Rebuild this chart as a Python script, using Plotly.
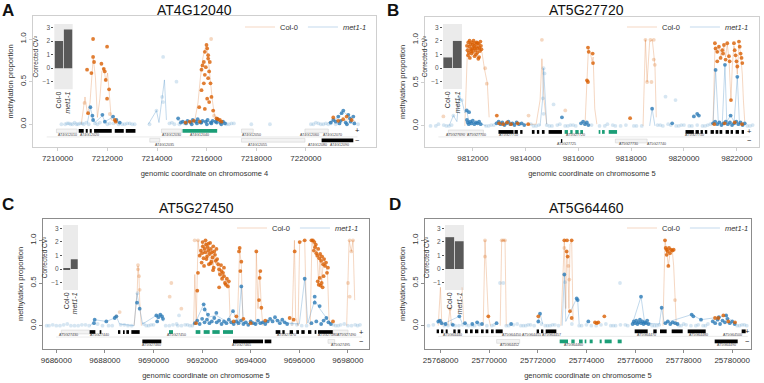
import plotly.graph_objects as go

W, H = 764, 383

# ---------------- Panel A : AT4G12040 (chr 4) ----------------
A_col_x = [7211183, 7211425, 7211425, 7211465, 7211357, 7211223, 7211761, 7211855, 7211895, 7211989, 7211935, 7211989, 7212070, 7212298, 7212338,
           7215994, 7216021, 7216061, 7215927, 7216061, 7215887, 7216128, 7215833, 7215967, 7215793, 7216101, 7215927, 7216061, 7215887, 7216155,
           7215793, 7216021, 7216101, 7215927, 7216262, 7215699, 7216195, 7215726, 7216397, 7216530, 7215322, 7215150, 7215480, 7216600, 7216450,
           7221101, 7221639, 7221840, 7221300, 7221500]
A_col_y = [0.64, 1.0, 0.79, 0.73, 0.6, 0.13, 0.71, 0.65, 0.62, 0.91, 0.52, 0.3, 0.41, 0.05, 0.03,
           0.93, 0.89, 0.81, 0.85, 0.77, 0.73, 0.73, 0.69, 0.67, 0.64, 0.62, 0.58, 0.54, 0.48, 0.48,
           0.4, 0.3, 0.26, 0.18, 0.16, 0.2, 0.32, 0.03, 0.07, 0.05, 0.03, 0.02, 0.04, 0.03, 0.06,
           0.08, 0.09, 0.05, 0.04, 0.06]
A_colf_x = [7216181, 7211080, 7212100, 7216300]
A_colf_y = [1.0, 0.25, 0.12, 0.1]
A_col_line_x = [7210950, 7211100, 7211200, 7211300, 7211430, 7211520, 7211600, 7211700, 7211780, 7211860, 7211940, 7212010, 7212080, 7212160, 7212300, 7212400, None,
                7215500, 7215650, 7215750, 7215850, 7215950, 7216010, 7216080, 7216150, 7216230, 7216320, 7216450, 7216600, None,
                7220900, 7221200, 7221500, 7221800, 7222000]
A_col_line_y = [0.0, 0.32, 0.12, 0.25, 0.78, 0.55, 0.08, 0.3, 0.62, 0.66, 0.5, 0.6, 0.35, 0.05, 0.04, 0.02, None,
                0.01, 0.25, 0.55, 0.78, 0.9, 0.88, 0.72, 0.5, 0.28, 0.1, 0.04, 0.02, None,
                0.02, 0.05, 0.04, 0.06, 0.03]
A_met_x = [7211317, 7211398, 7211801, 7212231, 7212365, 7211425, 7211900, 7212500, 7214852,
           7214960, 7215040, 7215170, 7215230, 7215360, 7215440, 7215570, 7215640, 7215760, 7215830, 7215960, 7216040, 7216170, 7216240, 7216360, 7216430, 7216560, 7216660, 7216740,
           7215400, 7215610, 7215790, 7216010, 7216190, 7216410, 7216590,
           7221505, 7221437, 7221303, 7221706, 7221773, 7221908, 7221101, 7221000, 7221200, 7221400, 7221600, 7221800, 7221350, 7221650, 7221950]
A_met_y = [0.2, 0.1, 0.11, 0.09, 0.05, 0.05, 0.03, 0.02, 0.07,
           0.02, 0.03, 0.01, 0.04, 0.02, 0.05, 0.03, 0.06, 0.02, 0.04, 0.03, 0.05, 0.02, 0.04, 0.03, 0.06, 0.02, 0.03, 0.01,
           0.0, 0.01, 0.02, 0.0, 0.01, 0.02, 0.0,
           0.16, 0.13, 0.09, 0.11, 0.07, 0.09, 0.05, 0.02, 0.03, 0.04, 0.02, 0.03, 0.01, 0.0, 0.01]
A_metf_x = [7210300, 7210450, 7210600, 7210750, 7210900, 7211050, 7211150, 7211600, 7212100, 7212700, 7212900, 7213100,
            7213978, 7214207, 7214247, 7214247, 7214785, 7213700, 7214500, 7214700, 7216900, 7217100, 7217800, 7218550,
            7220200, 7220500, 7220700, 7222100,
            7210150, 7210380, 7210520, 7210680, 7210820, 7210980, 7211250, 7211500, 7211700, 7212000, 7212250, 7212450, 7212600,
            7212800, 7213000, 7214600, 7214900, 7215100, 7216800, 7217000, 7220300, 7220400, 7220600, 7220800, 7220900, 7221000, 7221200]
A_metf_y = [0.0, 0.01, 0.0, 0.0, 0.01, 0.0, 0.02, 0.0, 0.01, 0.0, 0.01, 0.0,
            0.16, 0.32, 0.26, 0.79, 0.5, 0.0, 0.01, 0.0, 0.0, 0.01, 0.0, 0.0,
            0.0, 0.01, 0.0, 0.0,
            0.0, 0.01, 0.0, 0.02, 0.0, 0.01, 0.0, 0.01, 0.02, 0.0, 0.01, 0.0, 0.0,
            0.01, 0.0, 0.02, 0.0, 0.01, 0.0, 0.01, 0.0, 0.02, 0.0, 0.01, 0.0, 0.01, 0.0]
A_met_line_x = [7211200, 7211317, 7211400, 7211500, 7211800, 7211900, 7212200, 7212400, None,
                7213650, 7213978, 7214080, 7214200, 7214300, 7214380, None,
                7214800, 7215200, 7215600, 7216000, 7216400, 7216800, None,
                7220900, 7221300, 7221505, 7221700, 7221900]
A_met_line_y = [0.02, 0.2, 0.08, 0.02, 0.1, 0.03, 0.08, 0.02, None,
                0.0, 0.16, 0.02, 0.3, 0.52, 0.05, None,
                0.05, 0.03, 0.04, 0.03, 0.04, 0.02, None,
                0.02, 0.08, 0.15, 0.1, 0.05]
A_ex_start = [7209950, 7210847, 7211129, 7211290, 7211465, 7212298, 7212742, 7214180, 7215027, 7217405, 7219959, 7213709, 7217405, 7220631]
A_ex_end = [7210780, 7211048, 7211210, 7211371, 7212177, 7212661, 7213132, 7214986, 7216424, 7217876, 7220900, 7214112, 7219959, 7221908]
A_ex_strand = [1, 1, 1, 1, 1, 1, 1, 1, 1, 1, 1, -1, -1, -1]
A_ex_kind = ['o', 'k', 'k', 'k', 'k', 'k', 'k', 'o', 'g', 'o', 'o', 'o', 'o', 'k']
A_lab_x = [7210400, 7211300, 7214600, 7215700, 7217800, 7220150, 7221050, 7214300, 7218050, 7220450, 7221350]
A_lab_text = ['AT4G12010', 'AT4G12020', 'AT4G12030', 'AT4G12040', 'AT4G12050', 'AT4G12060', 'AT4G12070', 'AT4G12035', 'AT4G12055', 'AT4G12080', 'AT4G12090']
A_lab_strand = [1, 1, 1, 1, 1, 1, 1, -1, -1, -1, -1]
A_ticks = [7210000, 7212000, 7214000, 7216000, 7218000, 7220000]
A_cv = [2.0, 2.85]

# ---------------- Panel B : AT5G27720 (chr 5) ----------------
B_col_x = [9811780, 9811800, 9811830, 9811850, 9811870, 9811890, 9811910, 9811930, 9811950, 9811970, 9811990, 9812010, 9812030, 9812050,
           9812070, 9812090, 9812110, 9812130, 9812150, 9812170, 9812190, 9812210, 9812230, 9812250, 9812270, 9812290, 9812310, 9812330,
           9811820, 9811880, 9811940, 9812000, 9812060, 9812120, 9812180, 9812240,
           9812911, 9813000, 9813150, 9813300, 9813450, 9813700, 9814100,
           9816364, 9816390, 9816541, 9816326, 9816364, 9816554, 9817959,
           9821171, 9821197, 9821260, 9821323, 9821450, 9821513, 9821480, 9821639, 9821703, 9821730, 9821576, 9821779, 9821892, 9821920,
           9821956, 9821990, 9822019, 9822082, 9822110, 9822145, 9822180, 9822209, 9821260, 9821386,
           9821150, 9821540, 9821920, 9822200]
B_col_y = [0.93, 0.88, 0.97, 0.85, 0.92, 0.79, 0.95, 0.89, 0.84, 0.97, 0.9, 0.86, 0.99, 0.93,
           0.81, 0.96, 0.88, 0.92, 0.97, 0.85, 0.9, 0.78, 0.95, 0.91, 0.87, 0.98, 0.93, 0.89,
           0.82, 0.99, 0.87, 0.94, 0.9, 0.83, 0.96, 0.8,
           0.12, 0.03, 0.02, 0.04, 0.02, 0.03, 0.02,
           0.91, 0.86, 0.84, 0.53, 0.51, 0.73, 0.09,
           0.96, 0.9, 0.86, 0.92, 0.88, 0.94, 0.84, 0.96, 0.81, 0.75, 0.77, 0.3, 0.96, 0.88,
           0.82, 0.75, 0.69, 0.98, 0.92, 0.84, 0.79, 0.73, 0.75, 0.79,
           0.02, 0.03, 0.04, 0.02]
B_colf_x = [9810887, 9814619, 9818540, 9818730, 9818856, 9818603, 9818768, 9818856, 9818894, 9812468, 9812531, 9815504, 9814113]
B_colf_y = [0.11, 1.0, 1.0, 1.0, 1.0, 0.51, 0.51, 0.77, 0.71, 0.67, 0.49, 0.18, 0.12]
B_col_line_x = [9811700, 9811800, 9811950, 9812100, 9812250, 9812350, 9812450, 9812550, 9812620, None,
                9812900, 9813200, 9813600, 9814000, 9814400, 9814550, 9814619, 9814700, 9814800, None,
                9816250, 9816330, 9816380, 9816450, 9816520, 9816560, 9816620, 9816700, None,
                9818450, 9818540, 9818603, 9818700, 9818800, 9818856, 9818900, 9818950, None,
                9821100, 9821171, 9821250, 9821323, 9821400, 9821450, 9821513, 9821576, 9821639, 9821703, 9821779, 9821830, 9821892,
                9821956, 9822019, 9822082, 9822145, 9822209, 9822250, 9822300]
B_col_line_y = [0.0, 0.9, 0.92, 0.9, 0.92, 0.85, 0.65, 0.5, 0.1, None,
                0.05, 0.03, 0.03, 0.02, 0.02, 0.3, 0.78, 0.3, 0.02, None,
                0.0, 0.52, 0.9, 0.85, 0.75, 0.8, 0.2, 0.02, None,
                0.0, 1.0, 0.51, 0.98, 1.0, 0.77, 0.7, 0.1, None,
                0.02, 0.9, 0.85, 0.92, 0.8, 0.88, 0.92, 0.8, 0.95, 0.78, 0.3, 0.7, 0.93,
                0.82, 0.6, 0.95, 0.84, 0.6, 0.3, 0.05]
B_met_x = [9811780, 9811810, 9811850, 9811900, 9811950, 9812000, 9812060, 9812120, 9812180, 9812240, 9812300, 9811772, 9811860,
           9812900, 9812980, 9813050, 9813120, 9813200, 9813280, 9813350, 9813420, 9813500, 9813580, 9813660, 9813750, 9813850, 9813950,
           9815378, 9816100, 9816180, 9816250, 9816320, 9816380, 9818793,
           9820374, 9820500, 9820564, 9819552,
           9821197, 9821551, 9822019, 9821766,
           9821100, 9821180, 9821260, 9821340, 9821420, 9821500, 9821580, 9821660, 9821740, 9821820, 9821900, 9821980, 9822060, 9822140, 9822220, 9822300]
B_met_y = [0.07, 0.04, 0.02, 0.05, 0.03, 0.06, 0.02, 0.04, 0.03, 0.05, 0.02, 0.18, 0.16,
           0.03, 0.05, 0.02, 0.04, 0.01, 0.03, 0.05, 0.02, 0.03, 0.01, 0.04, 0.02, 0.03, 0.01,
           0.1, 0.03, 0.05, 0.02, 0.04, 0.01, 0.2,
           0.11, 0.14, 0.12, 0.03,
           0.65, 0.71, 0.57, 0.12,
           0.03, 0.05, 0.02, 0.04, 0.01, 0.03, 0.05, 0.02, 0.04, 0.01, 0.03, 0.05, 0.02, 0.04, 0.01, 0.03]
B_metf_x = [9811266, 9811481, 9811583, 9814682, 9814720, 9814657, 9814682, 9815061, 9819300, 9819679,
            9810600, 9810900, 9811100, 9812500, 9812700, 9814300, 9814500, 9814900, 9815200, 9815600, 9815800, 9817000, 9817300,
            9817600, 9818200, 9819000, 9819200, 9819500, 9819800, 9820000, 9820300, 9820700, 9820900, 9822500, 9822600,
            9810400, 9810700, 9811000, 9811200, 9812600, 9812800, 9814200, 9814400, 9814800, 9815000, 9815300, 9815500, 9815700,
            9815900, 9816500, 9816800, 9817100, 9817400, 9817800, 9818100, 9818400, 9819100, 9819400, 9819700, 9819900, 9820200,
            9820500, 9820800, 9821000, 9822400]
B_metf_y = [0.12, 0.34, 0.3, 0.67, 0.61, 0.32, 0.14, 0.25, 0.34, 0.3,
            0.0, 0.01, 0.0, 0.0, 0.01, 0.0, 0.01, 0.0, 0.01, 0.0, 0.01, 0.0, 0.01,
            0.0, 0.0, 0.01, 0.0, 0.01, 0.0, 0.01, 0.0, 0.0, 0.01, 0.0, 0.01,
            0.0, 0.02, 0.0, 0.01, 0.0, 0.01, 0.02, 0.0, 0.01, 0.0, 0.02, 0.0, 0.01,
            0.0, 0.01, 0.0, 0.02, 0.0, 0.01, 0.0, 0.0, 0.01, 0.02, 0.0, 0.01, 0.0,
            0.01, 0.0, 0.02, 0.0]
B_met_line_x = [9811100, 9811266, 9811400, 9811481, 9811583, 9811700, 9811772, 9811850, 9812000, 9812300, 9812500, None,
                9814550, 9814650, 9814682, 9814720, 9814800, None,
                9818700, 9818793, 9818900, None,
                9821100, 9821197, 9821300, 9821450, 9821551, 9821620, 9821766, 9821900, 9822019, 9822100, 9822300]
B_met_line_y = [0.0, 0.12, 0.05, 0.34, 0.3, 0.15, 0.18, 0.05, 0.04, 0.03, 0.0, None,
                0.0, 0.32, 0.67, 0.5, 0.02, None,
                0.0, 0.2, 0.0, None,
                0.02, 0.65, 0.05, 0.03, 0.71, 0.05, 0.12, 0.05, 0.57, 0.03, 0.02]
B_ex_start = [9811077, 9812974, 9813581, 9813796, 9814239, 9814429, 9814619, 9814872,
              9815479, 9815694, 9815884, 9816073, 9816769, 9816896, 9817149,
              9820058, 9820437, 9820627, 9820792, 9821007, 9821197, 9821348, 9821576, 9821766, 9821956, 9822183,
              9815340, 9817402]
B_ex_end = [9812405, 9813543, 9813708, 9813885, 9814340, 9814517, 9814720, 9815378,
            9815605, 9815782, 9816010, 9816175, 9816832, 9816997, 9817465,
            9820374, 9820564, 9820716, 9820880, 9821133, 9821298, 9821450, 9821703, 9821855, 9822082, 9822272,
            9815390, 9818603]
B_ex_strand = [1] * 26 + [-1, -1]
B_ex_kind = ['o'] + ['k'] * 7 + ['g'] * 7 + ['k'] * 11 + ['k', 'o']
B_lab_x = [9811350, 9812150, 9813350, 9815900, 9820400, 9815550, 9817900, 9818950]
B_lab_text = ['AT5G27690', 'AT5G27700', 'AT5G27710', 'AT5G27720', 'AT5G27750', 'AT5G27725', 'AT5G27730', 'AT5G27740']
B_lab_strand = [1, 1, 1, 1, 1, -1, -1, -1]
B_ticks = [9812000, 9814000, 9816000, 9818000, 9820000, 9822000]
B_cv = [0.78, 2.0]

# ---------------- Panel C : AT5G27450 (chr 5) ----------------
C_col_x = [9691900, 9691950, 9692000, 9692030, 9692060, 9692100, 9692130, 9692160, 9692200, 9692230, 9692260, 9692300, 9692330, 9692360,
           9692400, 9692430, 9692460, 9692500, 9692530, 9692560, 9692590, 9691980, 9692080, 9692180, 9692280, 9692380, 9692480,
           9692020, 9692140, 9692250, 9692350, 9692450,
           9692620, 9692660, 9692700, 9692740, 9692780, 9692820, 9692860, 9692900, 9692940, 9692980, 9693020, 9693060, 9693100,
           9692700, 9692800, 9692900,
           9691750, 9691830, 9691800,
           9693546, 9693518, 9693614, 9693573, 9694232, 9694397, 9694369, 9694342, 9694438, 9693409,
           9693300, 9693700, 9694000, 9694600,
           9695810, 9696016, 9696222, 9695769, 9695604,
           9696500, 9696560, 9696620, 9696680, 9696700, 9696740, 9696780, 9696820, 9696860, 9696900, 9696940, 9696980, 9697020,
           9697060, 9697100, 9697140, 9697180, 9696760, 9696800, 9696840, 9696880, 9696920, 9696960, 9697000, 9696600, 9696650,
           9697388]
C_col_y = [0.82, 0.88, 0.85, 0.93, 0.79, 0.9, 0.86, 0.95, 0.81, 0.92, 0.88, 0.84, 0.97, 0.9,
           0.86, 0.8, 0.93, 0.87, 0.83, 0.76, 0.9, 0.74, 0.7, 0.78, 0.72, 0.75, 0.68,
           0.98, 1.0, 0.96, 0.73, 0.65,
           0.78, 0.72, 0.66, 0.6, 0.71, 0.55, 0.62, 0.58, 0.5, 0.48, 0.55, 0.46, 0.52,
           0.45, 0.64, 0.68,
           0.03, 0.62, 0.41,
           0.91, 0.87, 0.75, 0.64, 0.87, 0.64, 0.56, 0.3, 0.21, 0.11,
           0.05, 0.08, 0.03, 0.06,
           0.87, 0.98, 1.0, 0.07, 0.09,
           1.0, 1.0, 0.98, 0.95, 0.85, 0.82, 0.9, 0.79, 0.84, 0.76, 0.81, 0.72, 0.78,
           0.7, 0.74, 0.62, 0.68, 0.52, 0.48, 0.56, 0.47, 0.5, 0.45, 0.58, 0.88, 0.92,
           0.05]
C_colf_x = [9689361, 9689361, 9689402, 9689430, 9688607, 9688470, 9690665, 9691145, 9691694, 9691831,
            9698074, 9698142, 9698211, 9698074, 9698005, 9690733]
C_colf_y = [0.71, 0.66, 0.58, 0.42, 0.16, 0.11, 0.34, 0.2, 1.0, 1.0,
            1.0, 0.87, 1.0, 0.34, 0.5, 0.5]
C_col_line_x = [9689200, 9689330, 9689361, 9689402, 9689430, 9689500, None,
                9691650, 9691700, 9691760, 9691831, 9691900, 9691960, 9692020, 9692080, 9692140, 9692200, 9692250, 9692300, 9692350,
                9692400, 9692450, 9692500, 9692560, 9692620, 9692680, 9692740, 9692800, 9692860, 9692920, 9692980, 9693040, 9693100, 9693160, None,
                9693450, 9693518, 9693546, 9693614, 9693680, None,
                9694200, 9694232, 9694300, 9694369, 9694438, 9694500, None,
                9695700, 9695800, 9695850, 9695950, 9696016, 9696222, 9696300, None,
                9696450, 9696520, 9696600, 9696680, 9696740, 9696800, 9696860, 9696920, 9696980, 9697040, 9697100, 9697160, 9697220, 9697280, None,
                9697950, 9698050, 9698142, 9698211, 9698280]
C_col_line_y = [0.0, 0.4, 0.7, 0.58, 0.3, 0.0, None,
                0.0, 0.6, 0.05, 1.0, 0.82, 0.9, 0.95, 0.85, 0.98, 0.8, 0.92, 0.85, 0.72,
                0.88, 0.68, 0.85, 0.72, 0.78, 0.6, 0.7, 0.55, 0.62, 0.48, 0.55, 0.46, 0.5, 0.02, None,
                0.0, 0.87, 0.91, 0.7, 0.05, None,
                0.0, 0.87, 0.2, 0.64, 0.2, 0.0, None,
                0.0, 1.0, 0.1, 0.0, 0.98, 1.0, 0.02, None,
                0.0, 1.0, 0.9, 0.95, 0.8, 0.48, 0.84, 0.5, 0.72, 0.78, 0.7, 0.62, 0.1, 0.0, None,
                0.0, 1.0, 0.87, 1.0, 0.3]
C_met_x = [9687578, 9687550, 9688058, 9688401, 9688470, 9689320, 9689430,
           9690116, 9690200, 9690280, 9690350, 9690390, 9690150,
           9692064, 9692105, 9692242, 9692586, 9693272,
           9691700, 9691800, 9691900, 9692000, 9692100, 9692200, 9692300, 9692400, 9692500, 9692600, 9692700, 9692800, 9692900,
           9693000, 9693100, 9693200,
           9693614, 9693300, 9693400, 9693500, 9693600, 9693700, 9693800, 9693900, 9694000, 9694100, 9694200, 9694300, 9694400,
           9694500, 9694600, 9694700,
           9694800, 9694900, 9695000, 9695100, 9695200, 9695300, 9695400, 9695500,
           9696222, 9696634, 9696634, 9696839, 9697113, 9696500, 9696700, 9696900, 9697000, 9697200, 9697300]
C_met_y = [0.07, 0.03, 0.05, 0.09, 0.11, 0.27, 0.2,
           0.12, 0.1, 0.13, 0.11, 0.08, 0.05,
           0.25, 0.19, 0.13, 0.15, 0.17,
           0.03, 0.06, 0.02, 0.08, 0.04, 0.07, 0.03, 0.05, 0.09, 0.04, 0.06, 0.02, 0.05,
           0.03, 0.07, 0.04,
           0.46, 0.02, 0.05, 0.03, 0.06, 0.02, 0.04, 0.01, 0.05, 0.03, 0.02, 0.06, 0.03,
           0.04, 0.02, 0.05,
           0.08, 0.05, 0.1, 0.06, 0.03, 0.07, 0.04, 0.02,
           0.55, 0.34, 0.27, 0.23, 0.09, 0.03, 0.05, 0.02, 0.06, 0.04, 0.02]
C_metf_x = [9685700, 9686000, 9686300, 9686600, 9686900, 9687200, 9687900, 9688300, 9688800, 9689100, 9689700, 9689900,
            9690500, 9690800, 9691000, 9691300, 9691500, 9695900, 9696100, 9697500, 9697700, 9698000, 9698300, 9698400,
            9689340, 9691050,
            9685600, 9685850, 9686150, 9686450, 9686750, 9687050, 9687350, 9687700, 9688150, 9688650, 9688950, 9689600, 9689800,
            9690000, 9690650, 9690950, 9691150, 9691400, 9691600, 9695700, 9696300, 9697400, 9697600, 9697850, 9698150, 9698500]
C_metf_y = [0.0, 0.0, 0.01, 0.0, 0.0, 0.01, 0.0, 0.0, 0.01, 0.0, 0.0, 0.01,
            0.0, 0.01, 0.0, 0.01, 0.0, 0.01, 0.0, 0.0, 0.01, 0.0, 0.01, 0.0,
            0.38, 0.12,
            0.0, 0.01, 0.0, 0.02, 0.0, 0.01, 0.0, 0.02, 0.0, 0.01, 0.0, 0.02, 0.0,
            0.01, 0.0, 0.02, 0.0, 0.01, 0.0, 0.02, 0.0, 0.01, 0.0, 0.02, 0.0, 0.01]
C_met_line_x = [9687400, 9687578, 9688058, 9688401, 9688470, 9688600, 9689200, 9689320, 9689430, 9689550, 9690116, 9690280, 9690400, None,
                9691700, 9692064, 9692242, 9692586, 9693000, 9693272, 9693500, 9693614, 9693700, 9694400, 9695000, 9695500, 9696000,
                9696222, 9696350, 9696634, 9696839, 9697113, 9697300]
C_met_line_y = [0.0, 0.07, 0.05, 0.09, 0.11, 0.02, 0.0, 0.38, 0.2, 0.02, 0.12, 0.13, 0.05, None,
                0.02, 0.25, 0.1, 0.12, 0.05, 0.17, 0.03, 0.46, 0.03, 0.03, 0.08, 0.03, 0.02,
                0.55, 0.03, 0.3, 0.2, 0.09, 0.02]
C_ex_start = [9686206, 9687372, 9687784, 9688538, 9688744, 9688881, 9689087,
              9690637, 9691735, 9692064, 9692421, 9692860,
              9695028, 9695302, 9695604, 9695878, 9696084, 9696359, 9696633, 9696770, 9697388,
              9689540, 9693272, 9694575, 9697182]
C_ex_end = [9687372, 9687605, 9687852, 9688634, 9688813, 9688991, 9689430,
            9690802, 9691927, 9692311, 9692723, 9693272,
            9695220, 9695398, 9695741, 9695988, 9696221, 9696496, 9696702, 9697388, 9698005,
            9690322, 9694507, 9694849, 9697456]
C_ex_strand = [1] * 21 + [-1] * 4
C_ex_kind = ['o'] + ['k'] * 6 + ['g'] * 5 + ['k'] * 8 + ['o'] + ['k', 'k', 'k', 'o']
C_lab_x = [9686480, 9687784, 9690939, 9695467, 9697150, 9697950, 9689910, 9693615, 9697700]
C_lab_text = ['AT5G27430', 'AT5G27440', 'AT5G27450', 'AT5G27470', 'AT5G27480', 'AT5G27490', 'AT5G27460', 'AT5G27465', 'AT5G27495']
C_lab_strand = [1, 1, 1, 1, 1, 1, -1, -1, -1]
C_ticks = [9686000, 9688000, 9690000, 9692000, 9694000, 9696000, 9698000]
C_cv = [0.06, 0.72]

# ---------------- Panel D : AT5G64460 (chr 5) ----------------
D_col_x = [25773090, 25773200, 25773392, 25773186, 25773227, 25773323, 25773392, 25774352, 25774421, 25774737, 25774490,
           25777234, 25777261, 25777302, 25777343, 25777398, 25777481, 25777535, 25777371, 25777302, 25777439, 25777590,
           25779292, 25779429, 25779635, 25779840, 25780115, 25772020, 25769962]
D_col_y = [1.0, 1.0, 1.0, 0.87, 0.81, 0.17, 0.09, 0.04, 0.03, 0.11, 0.04,
           1.0, 0.91, 0.89, 0.87, 0.91, 0.89, 0.88, 0.7, 0.83, 0.85, 0.89,
           0.09, 0.09, 0.12, 0.05, 0.04, 0.11, 0.11]
D_colf_x = [25768384, 25769825, 25769825, 25770511, 25770579, 25770648, 25773090, 25773255, 25773296, 25777645]
D_colf_y = [0.2, 1.0, 0.81, 1.0, 1.0, 1.0, 0.91, 0.7, 0.54, 0.3]
D_col_line_x = [25767900, 25767990, 25768050, None, 25768300, 25768384, 25768450, None, 25768880, 25768950, None,
                25769750, 25769825, 25769900, 25769962, 25770050, None, 25770450, 25770511, 25770648, 25770700, None,
                25772950, 25773090, 25773150, 25773186, 25773227, 25773280, 25773323, 25773392, 25773450, None,
                25777150, 25777234, 25777302, 25777371, 25777439, 25777535, 25777590, 25777645, 25777700]
D_col_line_y = [0.0, 0.45, 0.0, None, 0.0, 0.2, 0.0, None, 0.45, 0.02, None,
                0.0, 1.0, 0.5, 0.11, 0.0, None, 0.0, 1.0, 1.0, 0.0, None,
                0.0, 1.0, 0.2, 0.87, 0.81, 0.2, 0.95, 1.0, 0.05, None,
                0.0, 1.0, 0.87, 0.7, 0.85, 0.88, 0.7, 0.3, 0.0]
D_met_x = [25767904, 25767973, 25768041, 25768768, 25768200, 25768500, 25769000, 25769300, 25769500, 25769700, 25770300, 25770900,
           25772020, 25772089, 25773090, 25773598, 25773639, 25774078, 25776246,
           25775900, 25775950, 25776000, 25776050, 25776100, 25776150, 25776200, 25776250, 25776300, 25776350, 25776400, 25776450,
           25776500, 25776550,
           25777096, 25777250, 25777350, 25777450, 25777550, 25777650, 25777750,
           25778331, 25778400, 25778715,
           25779200, 25779300, 25779400, 25779500, 25779600, 25779700, 25779800, 25779900, 25780000, 25780100, 25779450, 25779750]
D_met_y = [0.05, 0.06, 0.03, 0.11, 0.02, 0.01, 0.03, 0.02, 0.04, 0.02, 0.03, 0.02,
           0.05, 0.14, 0.6, 0.32, 0.3, 0.05, 0.34,
           0.02, 0.05, 0.03, 0.06, 0.02, 0.04, 0.07, 0.03, 0.05, 0.02, 0.04, 0.03,
           0.06, 0.02,
           0.21, 0.03, 0.05, 0.02, 0.04, 0.03, 0.02,
           0.13, 0.11, 0.07,
           0.05, 0.03, 0.07, 0.02, 0.06, 0.04, 0.08, 0.03, 0.05, 0.02, 0.1, 0.12]
D_metf_x = [25770442, 25770580, 25775381, 25773117,
            25768300, 25768600, 25768900, 25769150, 25769400, 25769600, 25770100, 25770700, 25771000, 25771300, 25771500,
            25771700, 25772300, 25772500, 25772700, 25773800, 25774200, 25774600, 25775000, 25775200, 25775600, 25776700,
            25776900, 25777900, 25778100, 25778500, 25778900, 25780300, 25780500,
            25767500, 25767700, 25768150, 25768450, 25768750, 25769050, 25769300, 25769550, 25769900, 25770200, 25770800,
            25771150, 25771400, 25771600, 25771850, 25772150, 25772400, 25772600, 25772850, 25773400, 25773700, 25774000,
            25774400, 25774800, 25775100, 25775400, 25775700, 25776600, 25776800, 25777000, 25777800, 25778000, 25778300,
            25778600, 25778800, 25779000, 25780200, 25780400, 25780600]
D_metf_y = [0.5, 0.5, 0.5, 0.51,
            0.0, 0.0, 0.01, 0.0, 0.0, 0.01, 0.0, 0.0, 0.01, 0.0, 0.0,
            0.01, 0.0, 0.0, 0.01, 0.0, 0.0, 0.01, 0.0, 0.0, 0.01, 0.0,
            0.0, 0.0, 0.01, 0.0, 0.0, 0.0, 0.01,
            0.0, 0.01, 0.0, 0.02, 0.0, 0.01, 0.0, 0.02, 0.0, 0.01, 0.0,
            0.02, 0.0, 0.01, 0.0, 0.02, 0.0, 0.01, 0.0, 0.02, 0.0, 0.01,
            0.0, 0.02, 0.0, 0.01, 0.0, 0.02, 0.0, 0.01, 0.0, 0.02, 0.0,
            0.01, 0.0, 0.02, 0.0, 0.01, 0.0]
D_met_line_x = [25767850, 25767973, 25768100, 25768768, 25768900, None,
                25772000, 25772089, 25772200, None,
                25773000, 25773090, 25773150, 25773598, 25773639, 25773700, None,
                25775900, 25776246, 25776400, 25777000, 25777096, 25777200, 25778331, 25778715, 25779450, 25779750, 25780100]
D_met_line_y = [0.02, 0.06, 0.02, 0.11, 0.02, None,
                0.02, 0.14, 0.02, None,
                0.0, 0.6, 0.05, 0.32, 0.3, 0.02, None,
                0.03, 0.34, 0.03, 0.02, 0.21, 0.03, 0.13, 0.07, 0.1, 0.12, 0.02]
D_ex_start = [25767835, 25768014, 25768206, 25768521, 25768700, 25769002, 25769207, 25769413, 25769660, 25769852, 25770072, 25770264,
              25771951, 25772130, 25772322,
              25775985, 25776753, 25777028, 25777508, 25778167, 25780389,
              25772898, 25773378, 25773694, 25773927, 25774133, 25774544, 25774750, 25775285,
              25770305, 25779278]
D_ex_end = [25767931, 25768110, 25768288, 25768617, 25768809, 25769111, 25769317, 25769550, 25769770, 25769962, 25770181, 25770552,
            25772047, 25772226, 25772761,
            25776520, 25776891, 25777302, 25777961, 25778908, 25780554,
            25773241, 25773515, 25773845, 25773996, 25774256, 25774627, 25775038, 25775450,
            25771252, 25780225]
D_ex_strand = [1] * 21 + [-1] * 10
D_ex_kind = ['k'] * 21 + ['g'] * 8 + ['o', 'k']
D_lab_x = [25768500, 25770900, 25771750, 25772550, 25776465, 25778592, 25780000, 25770840, 25773447, 25779772]
D_lab_text = ['AT5G64440', 'AT5G64450', 'AT5G64455', 'AT5G64457', 'AT5G64470', 'AT5G64480', 'AT5G64500', 'AT5G64452', 'AT5G64460', 'AT5G64490']
D_lab_strand = [1, 1, 1, 1, 1, 1, 1, -1, -1, -1]
D_ticks = [25768000, 25770000, 25772000, 25774000, 25776000, 25778000, 25780000]
D_cv = [2.35, 2.05]

CV_GROUPS = ['Col-0', 'met1-1']
CV_LABELS = ['Col-0', '<i>met1-1</i>']

# ---------------- styling / layout ----------------
FONT = 'Liberation Sans, Arial, sans-serif'
ORANGE = '#D95F02'
ORANGE_F = 'rgba(217,95,2,0.25)'
ORANGE_L = 'rgba(226,140,80,0.5)'
BLUE = '#2C7BB6'
BLUE_F = 'rgba(70,140,195,0.22)'
BLUE_L = 'rgba(80,145,200,0.5)'
GREEN = '#1B9E77'
MS = 3.8

panels = [
    dict(letter='A', title='AT4G12040', chrom='4', box=(33, 376, 16, 147), xr=(7209005, 7222822), yr=(-0.267, 1.27),
         ins=(54.3, 72.7, 24, 89.3), rows=(-0.078, -0.188, -0.13, -0.24, -0.149), pm=0.946, border='#cfcfcf',
         letter_pos=(8, 10), title_pos=(194, 10), leg=(372, 27),
         col=(A_col_x, A_col_y), colf=(A_colf_x, A_colf_y), coll=(A_col_line_x, A_col_line_y),
         met=(A_met_x, A_met_y), metf=(A_metf_x, A_metf_y), metl=(A_met_line_x, A_met_line_y),
         ex=(A_ex_start, A_ex_end, A_ex_strand, A_ex_kind), lab=(A_lab_x, A_lab_text, A_lab_strand), ticks=A_ticks, cv=A_cv),
    dict(letter='B', title='AT5G27720', chrom='5', box=(425, 759, 17, 147), xr=(9810191, 9822841), yr=(-0.245, 1.265),
         ins=(443, 462, 24, 89), rows=(-0.07, -0.175, -0.11, -0.214, -0.128), pm=0.972, border='#cfcfcf',
         letter_pos=(393, 10), title_pos=(586, 10), leg=(754, 27),
         col=(B_col_x, B_col_y), colf=(B_colf_x, B_colf_y), coll=(B_col_line_x, B_col_line_y),
         met=(B_met_x, B_met_y), metf=(B_metf_x, B_metf_y), metl=(B_met_line_x, B_met_line_y),
         ex=(B_ex_start, B_ex_end, B_ex_strand, B_ex_kind), lab=(B_lab_x, B_lab_text, B_lab_strand), ticks=B_ticks, cv=B_cv),
    dict(letter='C', title='AT5G27450', chrom='5', box=(43, 369, 219, 349), xr=(9685451, 9698869), yr=(-0.273, 1.25),
         ins=(63, 78, 225, 290), rows=(-0.074, -0.184, -0.105, -0.223, -0.133), pm=0.978, border='#8c8c8c',
         letter_pos=(8, 204), title_pos=(197, 208), leg=(364, 228),
         col=(C_col_x, C_col_y), colf=(C_colf_x, C_colf_y), coll=(C_col_line_x, C_col_line_y),
         met=(C_met_x, C_met_y), metf=(C_metf_x, C_metf_y), metl=(C_met_line_x, C_met_line_y),
         ex=(C_ex_start, C_ex_end, C_ex_strand, C_ex_kind), lab=(C_lab_x, C_lab_text, C_lab_strand), ticks=C_ticks, cv=C_cv),
    dict(letter='D', title='AT5G64460', chrom='5', box=(425, 751, 219, 349), xr=(25767355, 25780773), yr=(-0.273, 1.25),
         ins=(445, 464, 225, 290), rows=(-0.066, -0.184, -0.105, -0.223, -0.125), pm=0.99, border='#8c8c8c',
         letter_pos=(395, 204), title_pos=(586, 208), leg=(754, 228),
         col=(D_col_x, D_col_y), colf=(D_colf_x, D_colf_y), coll=(D_col_line_x, D_col_line_y),
         met=(D_met_x, D_met_y), metf=(D_metf_x, D_metf_y), metl=(D_met_line_x, D_met_line_y),
         ex=(D_ex_start, D_ex_end, D_ex_strand, D_ex_kind), lab=(D_lab_x, D_lab_text, D_lab_strand), ticks=D_ticks, cv=D_cv),
]


def fx(px):
    return px / W


def fy(py):
    return 1 - py / H


fig = go.Figure()
layout = dict(width=W, height=H, margin=dict(l=0, r=0, t=0, b=0), paper_bgcolor='white', plot_bgcolor='rgba(0,0,0,0)',
              font=dict(family=FONT, color='#333333'), showlegend=True)
shapes = []
annotations = []

for i, p in enumerate(panels):
    n = i + 1
    xa = 'x' if n == 1 else f'x{n}'
    ya = 'y' if n == 1 else f'y{n}'
    xk = 'xaxis' if n == 1 else f'xaxis{n}'
    yk = 'yaxis' if n == 1 else f'yaxis{n}'
    lg = 'legend' if n == 1 else f'legend{n}'
    ni = n + 4
    xai, yai = f'x{ni}', f'y{ni}'
    x0, x1, y0, y1 = p['box']

    fig.add_trace(go.Scatter(x=p['coll'][0], y=p['coll'][1], mode='lines', name='Col-0', legend=lg,
                             line=dict(color=ORANGE_L, width=0.7), xaxis=xa, yaxis=ya, hoverinfo='skip'))
    fig.add_trace(go.Scatter(x=p['metl'][0], y=p['metl'][1], mode='lines', name='<i>met1-1</i>', legend=lg,
                             line=dict(color=BLUE_L, width=0.7), xaxis=xa, yaxis=ya, hoverinfo='skip'))
    fig.add_trace(go.Scatter(x=p['metf'][0], y=p['metf'][1], mode='markers', showlegend=False,
                             marker=dict(color=BLUE_F, size=MS, line=dict(width=0)), xaxis=xa, yaxis=ya))
    fig.add_trace(go.Scatter(x=p['colf'][0], y=p['colf'][1], mode='markers', showlegend=False,
                             marker=dict(color=ORANGE_F, size=MS, line=dict(width=0)), xaxis=xa, yaxis=ya))
    fig.add_trace(go.Scatter(x=p['met'][0], y=p['met'][1], mode='markers', showlegend=False,
                             marker=dict(color=BLUE, size=MS, opacity=0.8, line=dict(width=0)), xaxis=xa, yaxis=ya))
    fig.add_trace(go.Scatter(x=p['col'][0], y=p['col'][1], mode='markers', showlegend=False,
                             marker=dict(color=ORANGE, size=MS, opacity=0.8, line=dict(width=0)), xaxis=xa, yaxis=ya))

    plus_y, minus_y, plus_lab, minus_lab, sep_y = p['rows']
    shapes.append(dict(type='line', xref=f'{xa} domain', yref=ya, x0=0.04, x1=p['pm'], y0=sep_y, y1=sep_y,
                       line=dict(color='#e6e6e6', width=0.8), layer='below'))
    st, en, sd, kd = p['ex']
    for s, e, d, k in zip(st, en, sd, kd):
        yc = plus_y if d > 0 else minus_y
        if k == 'k':
            fill, lc, lw = 'black', 'black', 0
        elif k == 'g':
            fill, lc, lw = GREEN, GREEN, 0
        else:
            fill, lc, lw = '#f3f3f3', '#d4d4d4', 0.6
        shapes.append(dict(type='rect', xref=xa, yref=ya, x0=s, x1=e, y0=yc - 0.022, y1=yc + 0.022,
                           fillcolor=fill, line=dict(color=lc, width=lw), layer='above'))
    lx, lt, ls = p['lab']
    for x, t, d in zip(lx, lt, ls):
        annotations.append(dict(x=x, y=plus_lab if d > 0 else minus_lab, xref=xa, yref=ya, text=t, showarrow=False,
                                font=dict(size=3.6, color='#444444'), xanchor='center', yanchor='middle'))
    annotations.append(dict(x=p['pm'], y=plus_y, xref=f'{xa} domain', yref=ya, text='+', showarrow=False,
                            font=dict(size=7.5, color='#222222'), xanchor='center', yanchor='middle'))
    annotations.append(dict(x=p['pm'], y=minus_y, xref=f'{xa} domain', yref=ya, text='\u2212', showarrow=False,
                            font=dict(size=7.5, color='#222222'), xanchor='center', yanchor='middle'))

    layout[xk] = dict(domain=[fx(x0), fx(x1)], anchor=ya, range=list(p['xr']), tickvals=p['ticks'],
                      ticktext=[str(t) for t in p['ticks']], showgrid=False, zeroline=False,
                      showline=True, mirror=True, linecolor=p['border'], linewidth=1,
                      ticks='outside', ticklen=3, tickcolor=p['border'], tickfont=dict(size=8, color='#333333'),
                      title=dict(text=f'genomic coordinate on chromosome {p["chrom"]}', font=dict(size=7.5, color='#333333'), standoff=9),
                      automargin=False)
    layout[yk] = dict(domain=[fy(y1), fy(y0)], anchor=xa, range=list(p['yr']), tickvals=[0.0, 0.5, 1.0],
                      ticktext=['0.0', '0.5', '1.0'], tickangle=-90, showgrid=False, zeroline=False,
                      showline=True, mirror=True, linecolor=p['border'], linewidth=1,
                      ticks='outside', ticklen=3, tickcolor=p['border'], tickfont=dict(size=8, color='#333333'),
                      title=dict(text='methylation proportion', font=dict(size=7.5, color='#333333'), standoff=4),
                      automargin=False)
    layout[lg] = dict(orientation='h', x=fx(p['leg'][0]), y=fy(p['leg'][1]), xanchor='right', yanchor='middle',
                      bgcolor='rgba(0,0,0,0)', font=dict(size=7.5, color='#333333'), itemwidth=30,
                      tracegroupgap=0)

    ix0, ix1, iy0, iy1 = p['ins']
    shapes.append(dict(type='rect', xref=f'{xai} domain', yref=f'{yai} domain', x0=0, x1=1, y0=0, y1=1,
                       fillcolor='#ebebeb', line=dict(width=0), layer='below'))
    fig.add_trace(go.Bar(x=CV_GROUPS, y=p['cv'], marker=dict(color='#595959', line=dict(width=0)),
                         showlegend=False, xaxis=xai, yaxis=yai, width=0.92))
    layout[f'xaxis{ni}'] = dict(domain=[fx(ix0), fx(ix1)], anchor=yai, range=[-0.5, 1.5], tickvals=CV_GROUPS,
                                ticktext=CV_LABELS, tickangle=-90, showgrid=False, zeroline=False, showline=False,
                                ticks='', tickfont=dict(size=7, color='#333333'), automargin=False)
    layout[f'yaxis{ni}'] = dict(domain=[fy(iy1), fy(iy0)], anchor=xai, range=[-1.55, 3.25], tickvals=[-1, 0, 1, 2, 3],
                                ticktext=['\u22121', '0', '1', '2', '3'], showgrid=False, zeroline=False, showline=False,
                                ticks='outside', ticklen=2, tickcolor='#555555', tickfont=dict(size=6.5, color='#555555'),
                                title=dict(text='Corrected CV\u00b2', font=dict(size=6.5, color='#333333'), standoff=3),
                                automargin=False)

    annotations.append(dict(x=fx(p['title_pos'][0]), y=fy(p['title_pos'][1]), xref='paper', yref='paper', text=p['title'],
                            showarrow=False, font=dict(size=14, color='#111111'), xanchor='center', yanchor='middle'))
    annotations.append(dict(x=fx(p['letter_pos'][0]), y=fy(p['letter_pos'][1]), xref='paper', yref='paper',
                            text=f'<b>{p["letter"]}</b>', showarrow=False, font=dict(size=17, color='#111111'),
                            xanchor='center', yanchor='middle'))

layout['shapes'] = shapes
layout['annotations'] = annotations
layout['bargap'] = 0.05
fig.update_layout(**layout)
fig.write_html('out.html')
